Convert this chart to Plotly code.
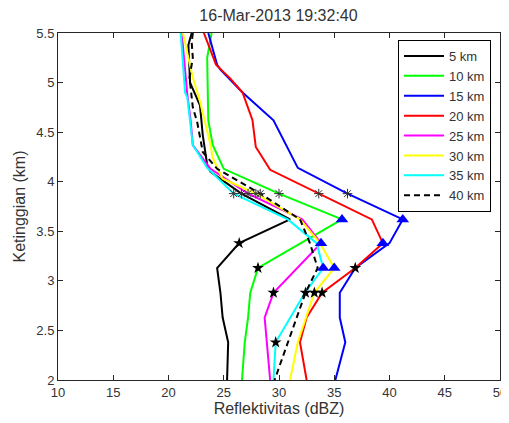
import plotly.graph_objects as go

# ---- data (reflectivity dBZ vs height km) ----
names = ["5 km", "10 km", "15 km", "20 km", "25 km", "30 km", "35 km", "40 km"]
colors = ["#000000", "#00ff00", "#0000ff", "#ff0000", "#ff00ff", "#ffff00", "#00ffff", "#000000"]
dashes = ["solid", "solid", "solid", "solid", "solid", "solid", "solid", "6px,4px"]

h_5 = [5.5, 5.38, 5.0, 4.77, 4.47, 4.17, 4.10, 3.88, 3.62, 3.38, 3.13, 2.88, 2.63, 2.38, 2.0]
v_5 = [22.1, 21.8, 21.95, 22.85, 23.1, 23.5, 23.8, 26.6, 31.0, 26.4, 24.4, 24.7, 24.9, 25.4, 25.3]

h_10 = [5.5, 5.25, 4.62, 4.37, 4.13, 3.88, 3.62, 3.13, 2.88, 2.63, 2.38, 2.0]
v_10 = [23.9, 23.5, 23.6, 24.0, 25.0, 30.0, 35.7, 28.1, 27.4, 27.2, 26.9, 26.65]

h_15 = [5.5, 5.18, 5.13, 4.90, 4.62, 4.14, 3.88, 3.62, 3.38, 3.13, 2.88, 2.63, 2.38, 2.0]
v_15 = [23.6, 24.4, 24.7, 26.7, 29.5, 31.7, 36.2, 41.2, 40.0, 36.9, 35.5, 35.5, 36.0, 35.1]

h_20 = [5.5, 5.18, 5.04, 4.90, 4.62, 4.35, 4.12, 3.88, 3.62, 3.38, 3.13, 2.88, 2.63, 2.38, 2.0]
v_20 = [23.2, 24.3, 25.6, 26.7, 27.6, 27.9, 29.2, 33.6, 38.4, 39.4, 36.9, 33.9, 32.5, 31.9, 32.5]

h_25 = [5.5, 4.88, 4.62, 4.37, 4.13, 3.88, 3.62, 3.38, 2.88, 2.63, 2.0]
v_25 = [21.2, 21.7, 22.0, 22.2, 23.8, 27.2, 32.1, 33.8, 29.5, 28.7, 29.2]

h_30 = [5.5, 5.25, 5.05, 4.81, 4.60, 4.37, 4.24, 4.03, 3.88, 3.62, 3.38, 3.13, 2.88, 2.38, 2.0]
v_30 = [21.3, 21.8, 22.2, 22.85, 23.3, 23.8, 24.0, 24.9, 27.9, 31.9, 33.7, 35.0, 33.2, 31.7, 31.0]

h_35 = [5.5, 4.90, 4.85, 4.37, 4.14, 3.88, 3.62, 3.38, 3.13, 2.88, 2.38, 2.0]
v_35 = [21.1, 21.5, 21.7, 22.2, 23.5, 25.9, 30.8, 33.4, 34.0, 32.35, 29.7, 29.5]

h_40 = [5.5, 5.4, 5.25, 5.05, 4.75, 4.60, 4.30, 4.13, 3.88, 3.62, 3.38, 3.13, 2.88, 2.0]
v_40 = [22.2, 22.1, 22.2, 21.9, 22.2, 22.6, 23.1, 24.4, 28.3, 31.9, 32.8, 33.5, 32.4, 29.6]

heights = [h_5, h_10, h_15, h_20, h_25, h_30, h_35, h_40]
values = [v_5, v_10, v_15, v_20, v_25, v_30, v_35, v_40]

# markers
ast_v = [26.6, 30.0, 36.2, 33.6, 27.2, 27.9, 25.9, 28.3]
ast_h = [3.88, 3.88, 3.88, 3.88, 3.88, 3.88, 3.88, 3.88]
pent_v = [26.4, 28.1, 36.9, 33.9, 29.5, 33.2, 29.7, 32.4]
pent_h = [3.38, 3.13, 3.13, 2.88, 2.88, 2.88, 2.38, 2.88]
tri_v = [35.7, 41.2, 39.4, 33.8, 35.0, 34.0]
tri_h = [3.62, 3.62, 3.38, 3.38, 3.13, 3.13]

x_ticks = [10, 15, 20, 25, 30, 35, 40, 45, 50]
y_ticks = [2, 2.5, 3, 3.5, 4, 4.5, 5, 5.5]
y_labels = ["2", "2.5", "3", "3.5", "4", "4.5", "5", "5.5"]

FONT = "Liberation Sans, Arial, sans-serif"
AX = "#262626"
TXT = "#333333"

W, H = 501, 415          # page has an 8px body margin
L, T, R, B = 50, 25, 9, 43
PW, PH = W - L - R, H - T - B

fig = go.Figure()
for n, c, d, h, v in zip(names, colors, dashes, heights, values):
    fig.add_trace(go.Scatter(x=v, y=h, mode="lines", name=n,
                             line=dict(color=c, width=2, dash=d)))

fig.add_trace(go.Scatter(x=ast_v, y=ast_h, mode="markers", showlegend=False,
                         marker=dict(symbol="asterisk-open", size=8, color="#333333",
                                     line=dict(color="#333333", width=1))))
fig.add_trace(go.Scatter(x=pent_v, y=pent_h, mode="markers", showlegend=False,
                         marker=dict(symbol="star", size=9, color="#000000",
                                     line=dict(width=0))))
fig.add_trace(go.Scatter(x=tri_v, y=tri_h, mode="markers", showlegend=False,
                         marker=dict(symbol="triangle-up", size=11, color="#0000ff",
                                     line=dict(width=0))))

fig.update_layout(
    width=W, height=H,
    margin=dict(l=L, r=R, t=T, b=B, autoexpand=False),
    paper_bgcolor="white", plot_bgcolor="white",
    font=dict(family=FONT, color=TXT, size=13),
    title=dict(text="16-Mar-2013 19:32:40", x=270.5 / W, xanchor="center",
               y=1 - 7.5 / H, yanchor="middle", font=dict(size=16, color=TXT)),
    showlegend=True,
    legend=dict(x=(390 - L) / PW, y=(H - B - 32) / PH, xanchor="left", yanchor="top",
                bgcolor="white", bordercolor="#000000", borderwidth=1,
                font=dict(size=13, color=TXT), itemwidth=40,
                tracegroupgap=0),
)
fig.update_xaxes(range=[10, 50], tickvals=x_ticks, ticks="inside", ticklen=5,
                 tickcolor=AX, showline=True, linecolor=AX, linewidth=1, mirror="ticks",
                 showgrid=False, zeroline=False, automargin=False,
                 ticklabeloverflow="allow",
                 tickfont=dict(size=13, color=TXT),
                 title=dict(text="Reflektivitas (dBZ)", font=dict(size=16, color=TXT), standoff=3))
fig.update_yaxes(range=[2, 5.5], tickvals=y_ticks, ticktext=y_labels, ticks="inside",
                 ticklen=5, tickcolor=AX, showline=True, linecolor=AX, linewidth=1,
                 mirror="ticks", showgrid=False, zeroline=False, automargin=False,
                 ticklabeloverflow="allow",
                 tickfont=dict(size=13, color=TXT),
                 title=dict(text="Ketinggian (km)", font=dict(size=16, color=TXT), standoff=6))

fig.write_html("out.html")
